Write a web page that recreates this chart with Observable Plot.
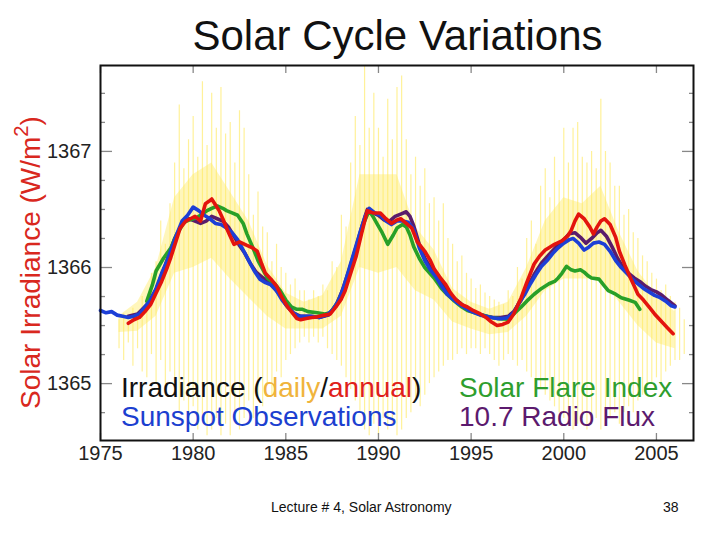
<!DOCTYPE html>
<html><head><meta charset="utf-8">
<script src="https://cdn.jsdelivr.net/npm/d3@7"></script>
<script src="https://cdn.jsdelivr.net/npm/@observablehq/plot@0.6"></script>
<style>
body{margin:0;background:#fff;font-family:"Liberation Sans",Arial,sans-serif;}
#wrap{position:relative;width:720px;height:540px;overflow:hidden;background:#fff;}
#chart{position:absolute;left:0;top:0;}
.t{position:absolute;white-space:nowrap;}
#title{left:0;width:795px;top:15px;text-align:center;font-size:42px;line-height:42px;color:#111;}
#ylab{left:-170px;width:400px;top:248px;text-align:center;font-size:28px;line-height:29px;color:#d9281e;transform:rotate(-90deg);}
#ylab sup{font-size:0.72em;line-height:0;vertical-align:0.55em;}
.leg{font-size:28px;line-height:28px;}
#foot{left:271px;top:500px;font-size:14px;line-height:14px;color:#111;}
#page{left:663px;top:500px;font-size:14px;line-height:14px;color:#111;}
</style></head><body>
<div id="wrap">
<div id="chart"></div>
<div class="t" id="title">Solar Cycle Variations</div>
<div class="t" id="ylab">Solar Irradiance (W/m<sup>2</sup>)</div>
<div class="t leg" style="left:121px;top:374px;color:#111">Irradiance (<span style="color:#f0b43c">daily</span>/<span style="color:#e0201a">annual</span>)</div>
<div class="t leg" style="left:121px;top:403px;color:#1c3fd0">Sunspot Observations</div>
<div class="t leg" style="left:459px;top:374px;color:#2e9e2e">Solar Flare Index</div>
<div class="t leg" style="left:459px;top:403px;color:#5c1a6e">10.7 Radio Flux</div>
<div class="t" id="foot">Lecture # 4, Solar Astronomy</div>
<div class="t" id="page">38</div>
</div>
<script>
// ---- tick labels ----
const xTicks = [1975, 1980, 1985, 1990, 1995, 2000, 2005];
const yMajor = [1365, 1366, 1367];
const yMinor = [1364.75, 1365.25, 1365.5, 1365.75, 1366.25, 1366.5, 1366.75, 1367.25, 1367.5];

// ---- daily irradiance (spike extremes) ----
const dailyYears = [
 1976,1976.25,1976.5,1976.75, 1977,1977.25,1977.5,1977.75, 1978,1978.25,1978.5,1978.75,
 1979,1979.25,1979.5,1979.75, 1980,1980.25,1980.5,1980.75, 1981,1981.25,1981.5,1981.75,
 1982,1982.25,1982.5,1982.75, 1983,1983.25,1983.5,1983.75, 1984,1984.25,1984.5,1984.75,
 1985,1985.25,1985.5,1985.75, 1986,1986.25,1986.5,1986.75, 1987,1987.25,1987.5,1987.75,
 1988,1988.25,1988.5,1988.75, 1989,1989.25,1989.5,1989.75, 1990,1990.25,1990.5,1990.75,
 1991,1991.25,1991.5,1991.75, 1992,1992.25,1992.5,1992.75, 1993,1993.25,1993.5,1993.75,
 1994,1994.25,1994.5,1994.75, 1995,1995.25,1995.5,1995.75, 1996,1996.25,1996.5,1996.75,
 1997,1997.25,1997.5,1997.75, 1998,1998.25,1998.5,1998.75, 1999,1999.25,1999.5,1999.75,
 2000,2000.25,2000.5,2000.75, 2001,2001.25,2001.5,2001.75, 2002,2002.25,2002.5,2002.75,
 2003,2003.25,2003.5,2003.75, 2004,2004.25,2004.5,2004.75, 2005,2005.25,2005.5,2005.75,
 2006,2006.25,2006.5];
const dailyHigh = [
 1365.55,1365.60,1365.50,1365.65, 1365.60,1365.75,1365.70,1365.95, 1366.05,1366.40,1366.20,1366.55,
 1366.90,1367.40,1366.85,1367.10, 1367.30,1366.95,1367.60,1367.05, 1367.50,1367.20,1367.55,1367.15,
 1367.25,1366.90,1367.35,1367.20, 1366.80,1366.45,1366.65,1366.35, 1366.30,1366.05,1366.20,1366.00,
 1365.95,1365.85,1365.90,1365.80, 1365.80,1365.72,1365.80,1365.75, 1365.85,1365.80,1366.05,1366.00,
 1366.45,1366.35,1366.90,1367.30, 1367.05,1367.75,1367.20,1367.50, 1367.20,1366.95,1367.45,1367.10,
 1367.55,1367.65,1367.10,1366.80, 1366.95,1366.70,1366.85,1366.55, 1366.60,1366.40,1366.55,1366.25,
 1366.20,1366.05,1366.10,1365.95, 1365.90,1365.82,1365.85,1365.78, 1365.75,1365.72,1365.70,1365.68,
 1365.80,1365.75,1366.00,1365.90, 1366.25,1366.40,1366.20,1366.70, 1366.85,1366.60,1366.95,1366.75,
 1367.20,1366.90,1367.20,1367.25, 1366.95,1366.90,1367.00,1366.85, 1367.45,1367.00,1366.90,1366.70,
 1366.70,1366.45,1366.50,1366.30, 1366.25,1366.10,1366.05,1365.95, 1365.90,1365.80,1365.85,1365.75,
 1365.70,1365.65,1365.55];
const dailyLow = [
 1365.30,1365.20,1365.35,1365.15, 1365.30,1365.10,1365.05,1365.25, 1365.00,1365.20,1364.95,1365.10,
 1364.90,1364.75,1364.85,1364.70, 1364.80,1364.60,1364.70,1364.55, 1364.60,1364.70,1364.55,1364.65,
 1364.55,1364.75,1364.60,1364.70, 1364.85,1364.70,1364.90,1364.80, 1365.00,1364.90,1365.10,1365.05,
 1365.20,1365.25,1365.30,1365.35, 1365.40,1365.35,1365.40,1365.35, 1365.40,1365.30,1365.25,1365.20,
 1365.15,1365.05,1364.95,1364.85, 1364.75,1364.60,1364.55,1364.65, 1364.55,1364.70,1364.60,1364.65,
 1364.55,1364.60,1364.70,1364.75, 1364.85,1364.80,1364.90,1365.00, 1365.05,1365.10,1365.15,1365.20,
 1365.20,1365.25,1365.30,1365.25, 1365.30,1365.30,1365.25,1365.30, 1365.25,1365.20,1365.15,1365.20,
 1365.25,1365.20,1365.15,1365.20, 1365.10,1365.05,1365.00,1364.95, 1364.90,1364.85,1364.80,1364.75,
 1364.70,1364.65,1364.60,1364.65, 1364.70,1364.60,1364.65,1364.70, 1364.60,1364.65,1364.70,1364.75,
 1364.65,1364.75,1364.80,1364.75, 1364.85,1364.90,1364.95,1365.00, 1365.05,1365.00,1365.10,1365.15,
 1365.20,1365.20,1365.25];

// ---- dense core of the daily values ----
const coreYears = [1976,1977,1978,1979,1980,1981,1982,1983,1984,1985,1986,1987,1988,1989,1990,1991,
 1992,1993,1994,1995,1996,1997,1998,1999,2000,2001,2002,2003,2004,2005,2006];
const coreHigh = [1365.58,1365.70,1366.00,1366.60,1366.80,1366.90,1366.65,1366.40,1366.02,1365.78,1365.70,
 1365.76,1366.05,1366.80,1366.80,1366.80,1366.35,1366.15,1365.82,1365.70,1365.64,1365.70,1366.00,1366.40,
 1366.60,1366.55,1366.70,1366.30,1365.97,1365.76,1365.62];
const coreLow = [1365.44,1365.45,1365.58,1365.95,1366.00,1366.08,1365.90,1365.74,1365.58,1365.47,1365.47,
 1365.47,1365.58,1366.00,1365.95,1366.00,1365.80,1365.72,1365.53,1365.47,1365.42,1365.44,1365.58,1365.80,
 1365.90,1365.90,1365.90,1365.70,1365.50,1365.35,1365.30];

// ---- annual irradiance (red) ----
const annualYears = [1976.5,1976.8,1977.1,1977.4,1977.7,1978.0,1978.3,1978.6,1978.8,1979.1,1979.3,1979.6,1979.85,
 1980.1,1980.4,1980.66,1980.85,1981.0,1981.2,1981.4,1981.6,1981.8,1982.0,1982.2,1982.5,1982.9,1983.2,1983.46,
 1983.7,1983.9,1984.2,1984.5,1984.8,1985.1,1985.3,1985.6,1985.8,1986.1,1986.4,1986.7,1987.1,1987.4,1987.7,
 1988.0,1988.2,1988.5,1988.8,1989.1,1989.4,1989.7,1990.1,1990.4,1990.7,1991.0,1991.2,1991.5,1991.8,1992.1,
 1992.5,1992.8,1993.0,1993.3,1993.6,1993.9,1994.2,1994.5,1994.8,1995.1,1995.5,1995.8,1996.1,1996.4,1996.7,
 1997.0,1997.3,1997.7,1998.0,1998.4,1998.7,1999.0,1999.2,1999.5,1999.9,2000.2,2000.4,2000.6,2000.8,2001.1,
 2001.4,2001.6,2001.8,2002.0,2002.2,2002.5,2002.8,2003.0,2003.3,2003.6,2003.8,2004.0,2004.3,2004.6,2004.9,
 2005.3,2005.6,2005.9];
const annualValues = [1365.52,1365.55,1365.57,1365.62,1365.68,1365.78,1365.88,1366.00,1366.09,1366.24,1366.34,1366.40,1366.42,
 1366.44,1366.40,1366.55,1366.57,1366.59,1366.54,1366.49,1366.42,1366.34,1366.27,1366.20,1366.22,1366.19,1366.17,1366.14,
 1366.03,1365.95,1365.90,1365.84,1365.74,1365.66,1365.62,1365.56,1365.55,1365.56,1365.57,1365.575,1365.59,1365.60,1365.66,
 1365.73,1365.80,1365.95,1366.10,1366.30,1366.49,1366.47,1366.47,1366.42,1366.38,1366.41,1366.42,1366.38,1366.34,1366.22,
 1366.14,1366.06,1365.99,1365.92,1365.86,1365.78,1365.72,1365.68,1365.66,1365.63,1365.60,1365.57,1365.53,1365.50,1365.51,
 1365.53,1365.60,1365.74,1365.87,1366.03,1366.10,1366.15,1366.17,1366.20,1366.23,1366.27,1366.32,1366.40,1366.46,1366.42,
 1366.35,1366.29,1366.35,1366.40,1366.42,1366.37,1366.26,1366.14,1366.02,1365.91,1365.84,1365.77,1365.72,1365.66,1365.60,
 1365.53,1365.48,1365.43];

// ---- sunspot observations (blue) ----
const sunspotYears = [1975.0,1975.3,1975.6,1975.9,1976.2,1976.5,1976.8,1977.1,1977.4,1977.7,1978.0,1978.3,1978.6,1978.8,
 1979.1,1979.4,1979.7,1980.0,1980.3,1980.6,1980.9,1981.2,1981.5,1981.8,1982.1,1982.4,1982.7,1983.0,1983.3,1983.6,1983.9,
 1984.2,1984.5,1984.8,1985.1,1985.4,1985.7,1986.0,1986.4,1986.8,1987.2,1987.5,1987.8,1988.1,1988.4,1988.7,1989.0,1989.3,
 1989.5,1989.8,1990.1,1990.4,1990.7,1991.0,1991.3,1991.6,1991.9,1992.2,1992.5,1992.8,1993.1,1993.4,1993.7,1994.0,1994.3,
 1994.6,1994.9,1995.2,1995.5,1995.8,1996.1,1996.4,1996.7,1997.0,1997.3,1997.6,1997.9,1998.2,1998.5,1998.8,1999.1,1999.4,
 1999.7,2000.0,2000.3,2000.5,2000.8,2001.1,2001.3,2001.6,2001.9,2002.2,2002.5,2002.8,2003.1,2003.4,2003.7,2004.0,2004.3,
 2004.6,2004.9,2005.2,2005.5,2005.8,2006.0];
const sunspotValues = [1365.63,1365.61,1365.62,1365.59,1365.58,1365.57,1365.58,1365.60,1365.66,1365.72,1365.82,1365.95,1366.06,1366.15,
 1366.28,1366.40,1366.45,1366.52,1366.49,1366.45,1366.42,1366.38,1366.37,1366.34,1366.30,1366.24,1366.15,1366.06,1365.97,1365.90,1365.87,
 1365.85,1365.80,1365.72,1365.66,1365.61,1365.58,1365.58,1365.58,1365.57,1365.59,1365.63,1365.70,1365.82,1365.98,1366.14,1366.30,1366.45,
 1366.51,1366.47,1366.45,1366.40,1366.37,1366.40,1366.40,1366.39,1366.33,1366.17,1366.06,1365.98,1365.92,1365.84,1365.77,1365.73,1365.69,
 1365.66,1365.63,1365.61,1365.59,1365.58,1365.57,1365.56,1365.56,1365.57,1365.61,1365.70,1365.77,1365.86,1365.94,1366.01,1366.06,1366.12,
 1366.17,1366.21,1366.24,1366.25,1366.21,1366.15,1366.17,1366.21,1366.22,1366.20,1366.14,1366.06,1366.00,1365.95,1365.90,1365.86,1365.82,
 1365.79,1365.76,1365.74,1365.71,1365.67,1365.66];

// ---- solar flare index (green) ----
const flareYears = [1977.5,1977.8,1978.0,1978.4,1978.8,1979.1,1979.5,1979.8,1980.2,1980.5,1980.75,1981.0,1981.3,1981.6,1981.8,
 1982.1,1982.4,1982.7,1982.9,1983.2,1983.5,1983.8,1984.0,1984.4,1984.7,1985.0,1985.3,1985.6,1985.9,1986.2,1986.7,1987.1,1987.4,
 1987.8,1988.1,1988.5,1988.9,1989.2,1989.5,1989.7,1989.95,1990.2,1990.5,1990.8,1991.0,1991.3,1991.5,1991.7,1991.9,1992.2,1992.5,
 1993.0,1993.4,1993.7,1994.1,1994.5,1994.8,1995.2,1995.6,1996.1,1996.5,1997.0,1997.3,1997.7,1998.0,1998.4,1998.8,1999.2,1999.5,
 1999.7,1999.9,2000.15,2000.4,2000.6,2000.9,2001.1,2001.3,2001.5,2001.9,2002.2,2002.4,2002.8,2003.1,2003.5,2003.85,2004.1];
const flareValues = [1365.71,1365.85,1365.97,1366.08,1366.17,1366.28,1366.39,1366.41,1366.43,1366.46,1366.49,1366.51,1366.53,1366.51,1366.49,
 1366.47,1366.45,1366.38,1366.29,1366.18,1366.06,1365.97,1365.91,1365.86,1365.80,1365.72,1365.66,1365.64,1365.64,1365.62,1365.61,1365.60,1365.61,
 1365.70,1365.80,1366.00,1366.20,1366.38,1366.49,1366.44,1366.37,1366.30,1366.20,1366.28,1366.34,1366.37,1366.35,1366.28,1366.18,1366.08,1366.00,
 1365.91,1365.82,1365.77,1365.71,1365.66,1365.63,1365.61,1365.59,1365.57,1365.56,1365.555,1365.60,1365.66,1365.71,1365.77,1365.82,1365.86,1365.88,
 1365.91,1365.95,1366.01,1365.98,1365.97,1365.98,1365.96,1365.93,1365.91,1365.90,1365.84,1365.80,1365.77,1365.74,1365.72,1365.70,1365.64];

// ---- 10.7 cm radio flux (purple) ----
const radioYears = [1976.5,1977.0,1977.5,1978.0,1978.5,1979.0,1979.5,1979.8,1980.1,1980.4,1980.7,1981.0,1981.3,1981.6,1981.9,
 1982.2,1982.5,1982.8,1983.1,1983.4,1983.7,1984.0,1984.3,1984.7,1985.0,1985.4,1985.8,1986.3,1986.8,1987.3,1987.7,1988.0,1988.4,
 1988.8,1989.1,1989.4,1989.7,1990.0,1990.3,1990.6,1990.9,1991.2,1991.5,1991.7,1991.9,1992.2,1992.5,1992.8,1993.1,1993.5,1993.8,
 1994.2,1994.6,1995.0,1995.4,1995.8,1996.2,1996.6,1997.0,1997.3,1997.7,1998.0,1998.4,1998.8,1999.2,1999.6,2000.0,2000.3,2000.6,
 2000.9,2001.2,2001.5,2001.8,2002.0,2002.3,2002.6,2002.9,2003.2,2003.5,2003.8,2004.1,2004.4,2004.7,2005.0,2005.3,2005.6,2006.0];
const radioValues = [1365.58,1365.60,1365.68,1365.81,1366.02,1366.25,1366.40,1366.42,1366.40,1366.38,1366.40,1366.44,1366.42,1366.40,1366.35,
 1366.27,1366.19,1366.12,1366.03,1365.96,1365.92,1365.88,1365.84,1365.76,1365.68,1365.61,1365.58,1365.58,1365.57,1365.59,1365.67,1365.78,1365.97,
 1366.18,1366.35,1366.50,1366.47,1366.45,1366.41,1366.40,1366.44,1366.46,1366.48,1366.44,1366.36,1366.20,1366.08,1366.00,1365.93,1365.84,1365.77,
 1365.72,1365.67,1365.63,1365.60,1365.58,1365.57,1365.57,1365.58,1365.62,1365.72,1365.82,1365.94,1366.04,1366.11,1366.18,1366.24,1366.29,1366.30,
 1366.26,1366.21,1366.25,1366.30,1366.32,1366.27,1366.18,1366.08,1366.00,1365.95,1365.91,1365.88,1365.84,1365.81,1365.79,1365.76,1365.72,1365.67];

const pairs = (xs, ys) => xs.map((x, i) => ({x, y: ys[i]}));
const daily = dailyYears.map((x, i) => ({x, lo: dailyLow[i], hi: dailyHigh[i]}));
const core = coreYears.map((x, i) => ({x, lo: coreLow[i], hi: coreHigh[i]}));

const lineOpts = {x: "x", y: "y", strokeWidth: 3.6, strokeLinejoin: "round", strokeLinecap: "round"};
const tickStroke = "#888";

const chart = Plot.plot({
  width: 720, height: 540,
  marginLeft: 100, marginRight: 27, marginTop: 65, marginBottom: 100,
  style: {fontFamily: "'Liberation Sans', Arial, sans-serif", background: "white", color: "#222"},
  x: {domain: [1975, 2007]},
  y: {domain: [1364.51, 1367.74]},
  marks: [
    Plot.ruleX(daily, {x: "x", y1: "lo", y2: "hi", stroke: "#ffe545", strokeOpacity: 0.55, strokeWidth: 1.2, clip: true}),
    Plot.areaY(core, {x: "x", y1: "lo", y2: "hi", fill: "#ffe95e", fillOpacity: 0.42, curve: "linear"}),
    Plot.line(pairs(radioYears, radioValues), {...lineOpts, stroke: "#5a1c6b"}),
    Plot.line(pairs(flareYears, flareValues), {...lineOpts, stroke: "#28a028"}),
    Plot.line(pairs(sunspotYears, sunspotValues), {...lineOpts, stroke: "#1d3fd6"}),
    Plot.line(pairs(annualYears, annualValues), {...lineOpts, stroke: "#e3140e"}),
    // axis labels
    Plot.axisY({anchor: "left", ticks: yMajor, tickSize: 0, tickPadding: 9, fontSize: 20, fill: "#222", label: null, tickFormat: d => String(d)}),
    Plot.axisX({anchor: "bottom", ticks: xTicks, tickSize: 0, tickPadding: 5, fontSize: 20, fill: "#222", label: null, tickFormat: d => String(d)}),
    // inward ticks
    Plot.axisY({anchor: "left", ticks: yMajor, tickSize: 12, insetLeft: 12, fill: "none", stroke: tickStroke, strokeWidth: 1.3, label: null}),
    Plot.axisY({anchor: "left", ticks: yMinor, tickSize: 5, insetLeft: 5, fill: "none", stroke: tickStroke, strokeWidth: 1.3, label: null}),
    Plot.axisY({anchor: "right", ticks: yMajor, tickSize: 12, insetRight: 12, fill: "none", stroke: tickStroke, strokeWidth: 1.3, label: null}),
    Plot.axisY({anchor: "right", ticks: yMinor, tickSize: 5, insetRight: 5, fill: "none", stroke: tickStroke, strokeWidth: 1.3, label: null}),
    Plot.axisX({anchor: "bottom", ticks: xTicks, tickSize: 7, insetBottom: 7, fill: "none", stroke: tickStroke, strokeWidth: 1.3, label: null}),
    Plot.axisX({anchor: "top", ticks: xTicks, tickSize: 7, insetTop: 7, fill: "none", stroke: tickStroke, strokeWidth: 1.3, label: null}),
    Plot.frame({stroke: "#111", strokeWidth: 2})
  ]
});
document.getElementById("chart").appendChild(chart);
</script>
</body></html>
